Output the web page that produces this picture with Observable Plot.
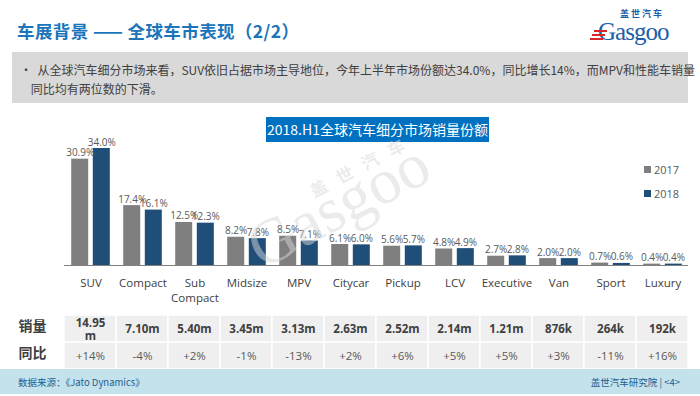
<!DOCTYPE html>
<html><head><meta charset="utf-8">
<script src="https://cdn.jsdelivr.net/npm/d3@7"></script>
<script src="https://cdn.jsdelivr.net/npm/@observablehq/plot@0.6"></script>
<style>
body{margin:0;width:700px;height:396px;position:relative;overflow:hidden;background:#fff;font-family:"Open Sans","Noto Sans CJK SC",sans-serif;}
.abs{position:absolute;}
#chart svg,#table svg{overflow:visible;}
</style></head><body>
<div class="abs" style="left:17px;top:18px;font:bold 17.5px 'Noto Sans CJK SC';color:#1b75bb;white-space:nowrap;letter-spacing:0.4px;">车展背景 —— 全球车市表现（2/2）</div>
<div class="abs" style="left:620px;top:8px;font:bold 9px/11px 'Noto Sans CJK SC';color:#1b5fa8;letter-spacing:2px;">盖世汽车</div>
<div class="abs" style="left:598px;top:21px;font:25px/22px 'Liberation Serif',serif;color:#1b5fa8;letter-spacing:-1px;">Gasgoo</div>
<div class="abs" style="left:594px;top:30px;width:13px;height:2px;background:#d9262c;"></div>
<div class="abs" style="left:592px;top:34px;width:13px;height:2px;background:#d9262c;"></div>
<div class="abs" style="left:590px;top:38px;width:13px;height:2px;background:#d9262c;"></div>
<div class="abs" style="left:12px;top:52px;width:676px;height:51px;background:#d9d9d9;"></div>
<div class="abs" style="left:20px;top:60px;font:12px 'Noto Sans CJK SC';color:#404040;line-height:19px;white-space:nowrap;">•&nbsp;&nbsp;从全球汽车细分市场来看，SUV依旧占据市场主导地位，今年上半年市场份额达34.0%，同比增长14%，而MPV和性能车销量<br>&nbsp;&nbsp;&nbsp;&nbsp;同比均有两位数的下滑。</div>
<div id="chart" class="abs" style="left:0;top:110px;"></div>
<div class="abs" style="left:266px;top:117px;width:223px;height:25px;background:#0070c0;color:#fff;font:14px 'Noto Sans CJK SC';line-height:25px;text-align:center;white-space:nowrap;">2018.H1全球汽车细分市场销量份额</div>
<div id="legend" class="abs" style="left:644px;top:162px;font:11px 'Open Sans';color:#595959;"></div>
<div id="table" class="abs" style="left:0;top:312px;"></div>
<div class="abs" style="left:0;top:369px;width:700px;height:25px;background:#c3e2ec;"></div>
<div class="abs" style="left:18px;top:375px;font:9.5px 'Noto Sans CJK SC';color:#1f5f91;">数据来源：《Jato Dynamics》</div>
<div class="abs" style="right:20px;top:375px;font:9.5px 'Noto Sans CJK SC';color:#1f5f91;">盖世汽车研究院 | &lt;4&gt;</div>
<svg class="abs" style="left:0;top:0;pointer-events:none;" width="700" height="396">
  <g transform="translate(262,270) rotate(-28)" fill="rgba(215,215,215,0.5)">
    <text x="0" y="0" font-family="Liberation Serif" font-size="64">Gasgoo</text>
    <text x="80" y="-39" font-family="Noto Sans CJK SC" font-weight="bold" font-size="17" letter-spacing="12">盖世汽车</text>
  </g>
</svg>
<script>
const categories = ["SUV","Compact","Sub Compact","Midsize","MPV","Citycar","Pickup","LCV","Executive","Van","Sport","Luxury"];
const years = ["2017","2018"];
const share2017 = [30.9,17.4,12.5,8.2,8.5,6.1,5.6,4.8,2.7,2.0,0.7,0.4];
const share2018 = [34.0,16.1,12.3,7.8,7.1,6.0,5.7,4.9,2.8,2.0,0.6,0.4];
const sales = ["14.95m","7.10m","5.40m","3.45m","3.13m","2.63m","2.52m","2.14m","1.21m","876k","264k","192k"];
const yoy = ["+14%","-4%","+2%","-1%","-13%","+2%","+6%","+5%","+5%","+3%","-11%","+16%"];
const rowLabels = ["销量","同比"];
const colors = ["#7f7f7f","#1f4e79"];

const d17 = categories.map((c,i)=>({cat:c,year:"2017",v:share2017[i]}));
const d18 = categories.map((c,i)=>({cat:c,year:"2018",v:share2018[i]}));
const off = 10.8;
const fmt = d => d.v.toFixed(1) + "%";
const chart = Plot.plot({
  width:700, height:200, marginTop:38, marginBottom:45, marginLeft:64, marginRight:12,
  style:{fontFamily:"'Open Sans','Noto Sans CJK SC',sans-serif", background:"transparent"},
  x:{domain:categories, padding:0.68, paddingOuter:0.34, axis:null, label:null},
  y:{domain:[0,34], axis:null, label:null},
  marks:[
    Plot.barY(d17,{x:"cat",y:"v",fill:colors[0],dx:-off}),
    Plot.barY(d18,{x:"cat",y:"v",fill:colors[1],dx:off}),
    Plot.text(d17,{x:"cat",y:"v",text:fmt,dx:-off,dy:-3,lineAnchor:"bottom",fontSize:10,fill:"#595959"}),
    Plot.text(d18,{x:"cat",y:"v",text:fmt,dx:off,dy:-3,lineAnchor:"bottom",fontSize:10,fill:"#595959"}),
    Plot.ruleY([0],{stroke:"#808080",strokeWidth:1}),
    Plot.axisX({tickSize:0,tickPadding:11,fontSize:11.5,fill:"#404040",lineAnchor:"top",label:null,lineHeight:1.3,
      tickFormat:d=>d==="Sub Compact"?"Sub\nCompact":d})
  ]
});
document.getElementById("chart").appendChild(chart);

const leg = document.getElementById("legend");
years.forEach((y,i)=>{
  const row = document.createElement("div");
  row.style.cssText = "display:flex;align-items:center;height:14px;margin-bottom:10px;";
  row.innerHTML = `<span style="display:inline-block;width:7px;height:7px;background:${colors[i]};margin-right:3px"></span>${y}`;
  leg.appendChild(row);
});

const r1 = categories.map((c,i)=>({cat:c,row:rowLabels[0],t:sales[i]}));
const r2 = categories.map((c,i)=>({cat:c,row:rowLabels[1],t:yoy[i]}));
const wrap = s => s.length > 5 ? s.slice(0,-1) + "\n" + s.slice(-1) : s;
const table = Plot.plot({
  width:700, height:57, marginTop:3, marginBottom:0, marginLeft:64, marginRight:12,
  style:{fontFamily:"'Open Sans','Noto Sans CJK SC',sans-serif", background:"transparent"},
  x:{domain:categories, padding:0, axis:null, label:null},
  y:{domain:rowLabels, padding:0, axis:null, label:null},
  marks:[
    Plot.cell(r1.concat(r2),{x:"cat",y:"row",fill:"#efefef",stroke:"#fff",strokeWidth:1.5,inset:0}),
    Plot.text(r1,{x:"cat",y:"row",text:d=>wrap(d.t),fontSize:11.5,fontWeight:"bold",fill:"#404040",lineHeight:1.15}),
    Plot.text(r2,{x:"cat",y:"row",text:"t",fontSize:11.5,fill:"#595959"}),
    Plot.axisY({tickSize:0,tickPadding:18,fontSize:14,fontWeight:"bold",fill:"#404040",dy:-2,label:null,
      fontFamily:"'Noto Sans CJK SC',sans-serif"})
  ]
});
document.getElementById("table").appendChild(table);
</script>
</body></html>
